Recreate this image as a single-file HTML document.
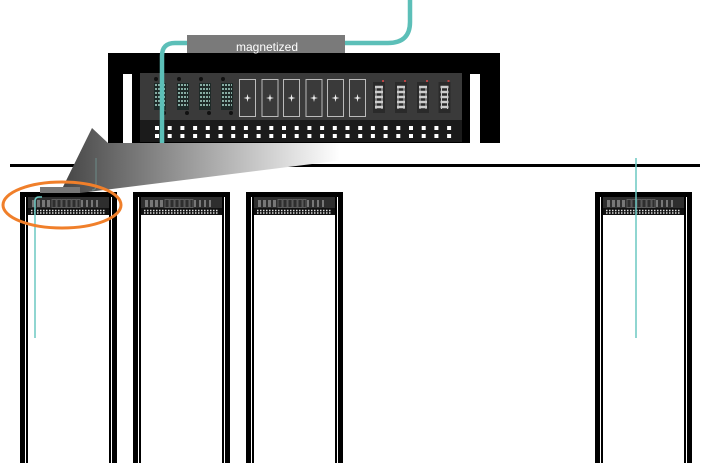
<!DOCTYPE html>
<html><head><style>body{margin:0;background:#fff}svg{display:block}</style></head><body>
<svg width="711" height="463" viewBox="0 0 711 463" xmlns="http://www.w3.org/2000/svg">
<defs>
<linearGradient id="wg" x1="60" y1="0" x2="340" y2="0" gradientUnits="userSpaceOnUse">
<stop offset="0" stop-color="#444"/><stop offset="0.45" stop-color="#999"/><stop offset="1" stop-color="#fff"/></linearGradient>
<g id="rack">
<rect x="0" y="0" width="97" height="280" fill="#000"/>
<rect x="5" y="5" width="87" height="280" fill="#fff"/>
<rect x="6" y="5" width="2" height="280" fill="#000"/>
<rect x="89" y="5" width="2" height="280" fill="#000"/>
<rect x="8" y="5" width="81" height="12" fill="#2e2e2e"/>
<rect x="8" y="16" width="81" height="7" fill="#111"/>
<g fill="#777"><rect x="12" y="8" width="3" height="7"/><rect x="17" y="8" width="3" height="7"/><rect x="22" y="8" width="3" height="7"/><rect x="27" y="8" width="3" height="7"/>
<rect x="61" y="8" width="2" height="7"/><rect x="66" y="8" width="2" height="7"/><rect x="71" y="8" width="2" height="7"/><rect x="76" y="8" width="2" height="7"/></g>
<g fill="none" stroke="#666" stroke-width="0.8"><rect x="32" y="7.5" width="4" height="8"/><rect x="37" y="7.5" width="4" height="8"/><rect x="42" y="7.5" width="4" height="8"/><rect x="47" y="7.5" width="4" height="8"/><rect x="52" y="7.5" width="4" height="8"/><rect x="57" y="7.5" width="3" height="8"/></g>
<path d="M11 18.5H86 M11 21H86" stroke="#ddd" stroke-width="1.5" stroke-dasharray="1.5 1.5"/>
</g>
</defs>
<rect x="10" y="164" width="690" height="3" fill="#000"/>
<use href="#rack" x="20" y="192"/>
<use href="#rack" x="133" y="192"/>
<use href="#rack" x="246" y="192"/>
<use href="#rack" x="595" y="192"/>
<polygon points="92,128 108,143 480,143 80,193 60,193" fill="url(#wg)"/>
<path d="M96 158 V186 Q96 190 92 190" stroke="#6a8a88" stroke-width="1" fill="none"/>
<rect x="40" y="187" width="40" height="6" fill="#777"/>
<rect x="108" y="53" width="392" height="90" fill="#000"/>
<rect x="123" y="74" width="9" height="69" fill="#fff"/>
<rect x="470" y="74" width="10" height="69" fill="#fff"/>
<rect x="140" y="73" width="322" height="47" fill="#3a3a3a"/>
<rect x="140" y="120" width="322" height="22" fill="#1b1b1b"/>
<g fill="#fff">
<g id="row">
<rect x="155" y="126" width="4" height="4"/><rect x="167.7" y="126" width="4" height="4"/><rect x="180.4" y="126" width="4" height="4"/><rect x="193.1" y="126" width="4" height="4"/><rect x="205.8" y="126" width="4" height="4"/><rect x="218.5" y="126" width="4" height="4"/><rect x="231.2" y="126" width="4" height="4"/><rect x="243.9" y="126" width="4" height="4"/><rect x="256.6" y="126" width="4" height="4"/><rect x="269.3" y="126" width="4" height="4"/><rect x="282" y="126" width="4" height="4"/><rect x="294.7" y="126" width="4" height="4"/><rect x="307.4" y="126" width="4" height="4"/><rect x="320.1" y="126" width="4" height="4"/><rect x="332.8" y="126" width="4" height="4"/><rect x="345.5" y="126" width="4" height="4"/><rect x="358.2" y="126" width="4" height="4"/><rect x="370.9" y="126" width="4" height="4"/><rect x="383.6" y="126" width="4" height="4"/><rect x="396.3" y="126" width="4" height="4"/><rect x="409" y="126" width="4" height="4"/><rect x="421.7" y="126" width="4" height="4"/><rect x="434.4" y="126" width="4" height="4"/><rect x="447.1" y="126" width="4" height="4"/>
</g>
<use href="#row" y="8"/>
</g>
<g id="gm">
<circle cx="156" cy="79" r="2" fill="#111"/>
<rect x="154" y="83" width="12" height="27" fill="#1e2a28"/>
<path d="M155 85h10M155 89h10M155 93h10M155 97h10M155 101h10M155 105h10" stroke="#a8d8cc" stroke-width="1.5" stroke-dasharray="2 1"/>
<circle cx="164" cy="113" r="2" fill="#111"/>
</g>
<use href="#gm" x="23"/><use href="#gm" x="45"/><use href="#gm" x="67"/>
<g id="st">
<rect x="239.5" y="79.5" width="16" height="37" fill="none" stroke="#bbb" stroke-width="1"/>
<path d="M247.5 94 L248.3 97.2 L251.5 98 L248.3 98.8 L247.5 102 L246.7 98.8 L243.5 98 L246.7 97.2 Z" fill="#eee"/>
</g>
<use href="#st" x="22.5"/><use href="#st" x="44"/><use href="#st" x="66.5"/><use href="#st" x="88"/><use href="#st" x="110"/>
<g id="pm">
<rect x="373" y="82" width="12" height="31" fill="#2a2a2a"/>
<path d="M375 87h8M375 92h8M375 97h8M375 102h8M375 107h8" stroke="#ccc" stroke-width="2.5"/>
<path d="M376 86v23M382 86v23" stroke="#ccc" stroke-width="1"/>
<rect x="382" y="80" width="2" height="2" fill="#b44"/>
</g>
<use href="#pm" x="22"/><use href="#pm" x="44"/><use href="#pm" x="65.5"/>
<path d="M410 0 V22 Q410 43 388 43 H345 M187 43 H175 Q162 43 162 56 V143" stroke="#5cbfb8" stroke-width="4.5" fill="none"/>
<rect x="187" y="35" width="158" height="18" fill="#7a7a7a"/>
<text x="267" y="51" font-family="Liberation Sans, sans-serif" font-size="12" fill="#fff" text-anchor="middle">magnetized</text>
<path d="M35 338 V201 Q35 197 39 197 H42" stroke="#6cc8c2" stroke-width="1.5" fill="none"/>
<path d="M636 158 V338" stroke="#6cc8c2" stroke-width="1.5"/>
<ellipse cx="62" cy="205" rx="59" ry="23" fill="none" stroke="#f07f2a" stroke-width="3"/>
</svg>
</body></html>
